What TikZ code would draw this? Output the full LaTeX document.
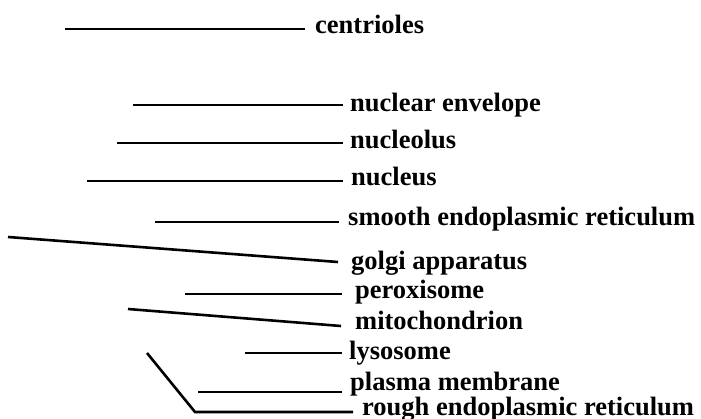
\documentclass[tikz,border=0pt]{standalone}
\usepackage{fontspec}
\setmainfont{Liberation Serif}
\begin{document}
\begin{tikzpicture}[x=1pt,y=-1pt,
  lbl/.style={anchor=base west,inner sep=0pt,font=\bfseries\fontsize{26.5}{30}\selectfont},
  lead/.style={line width=2.6pt}]
\useasboundingbox (0,0) rectangle (701,418);
% labels
\node[lbl] (ce) at (315,33) {centrioles};
\node[lbl] (ne) at (350,111) {nuclear envelope};
\node[lbl] (nl) at (350,148) {nucleolus};
\node[lbl] (nu) at (351,185) {nucleus};
\node[lbl] (se) at (348,225) {smooth endoplasmic reticulum};
\node[lbl] (ga) at (351,269) {golgi apparatus};
\node[lbl] (px) at (355,298) {peroxisome};
\node[lbl] (mi) at (355,329) {mitochondrion};
\node[lbl] (ly) at (349,359) {lysosome};
\node[lbl] (pm) at (350,390) {plasma membrane};
\node[lbl] (re) at (362,415) {rough endoplasmic reticulum};
% leader end points
\coordinate (ce1) at (65,29);   \coordinate (ce2) at (305,29);
\coordinate (ne1) at (133,105); \coordinate (ne2) at (343,105);
\coordinate (nl1) at (117,143); \coordinate (nl2) at (343,143);
\coordinate (nu1) at (87,181);  \coordinate (nu2) at (343,181);
\coordinate (se1) at (155,222); \coordinate (se2) at (339,222);
\coordinate (ga1) at (8,237);   \coordinate (ga2) at (338,262);
\coordinate (px1) at (185,294); \coordinate (px2) at (342,294);
\coordinate (mi1) at (128,309); \coordinate (mi2) at (341,326);
\coordinate (ly1) at (245,353); \coordinate (ly2) at (342,353);
\coordinate (pm1) at (198,392); \coordinate (pm2) at (342,392);
\coordinate (re1) at (147,353); \coordinate (re2) at (195,412); \coordinate (re3) at (353,412);
% leaders
\draw[lead] (ce1) -- (ce2);
\draw[lead] (ne1) -- (ne2);
\draw[lead] (nl1) -- (nl2);
\draw[lead] (nu1) -- (nu2);
\draw[lead] (se1) -- (se2);
\draw[lead] (ga1) -- (ga2);
\draw[lead] (px1) -- (px2);
\draw[lead] (mi1) -- (mi2);
\draw[lead] (ly1) -- (ly2);
\draw[lead] (pm1) -- (pm2);
\draw[lead] (re1) -- (re2) -- (re3);
\end{tikzpicture}
\end{document}
